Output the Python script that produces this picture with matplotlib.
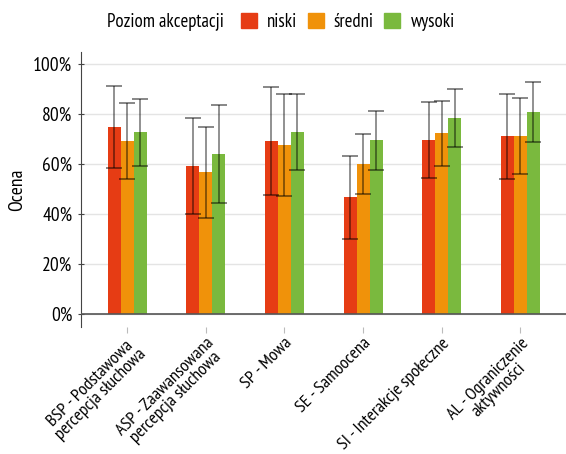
import matplotlib.pyplot as plt
import numpy as np
from matplotlib.ticker import FuncFormatter
from matplotlib.patches import Patch

plt.rcParams['font.family'] = ['PT Sans Narrow', 'DejaVu Sans']

categories = ['BSP - Podstawowa\npercepcja słuchowa',
              'ASP - Zaawansowana\npercepcja słuchowa',
              'SP - Mowa',
              'SE - Samoocena',
              'SI - Interakcje społeczne',
              'AL - Ograniczenie\naktywności']
levels = ['niski', 'średni', 'wysoki']
colors = ['#e63c14', '#f0920a', '#7ab93e']

niski = [74.9, 59.3, 69.2, 46.7, 69.6, 71.2]
sredni = [69.3, 56.8, 67.6, 60.0, 72.4, 71.3]
wysoki = [72.7, 64.0, 72.8, 69.6, 78.4, 80.8]
niski_sd = [16.4, 19.2, 21.5, 16.7, 15.1, 17.0]
sredni_sd = [15.3, 18.2, 20.3, 12.1, 13.0, 15.3]
wysoki_sd = [13.4, 19.6, 15.1, 11.8, 11.4, 11.9]

values = [niski, sredni, wysoki]
errors = [niski_sd, sredni_sd, wysoki_sd]

fig = plt.figure(figsize=(5.66, 4.54), dpi=100)
ax = fig.add_axes([80.7 / 566, 1 - 327 / 454, 1 - 80.7 / 566, (327 - 52) / 454])

x = np.arange(len(categories))
w = 0.165
for i in range(3):
    pos = x + (i - 1) * w
    ax.bar(pos, values[i], w, color=colors[i], zorder=2)
    ax.errorbar(pos, values[i], yerr=errors[i], fmt='none', ecolor='black',
                alpha=0.55, elinewidth=1.1, capsize=6, capthick=1.2, zorder=3)

ax.set_xlim(-0.59, 5.58)
ax.set_ylim(-5.2, 104.8)
ax.set_yticks([0, 20, 40, 60, 80, 100])
ax.yaxis.set_major_formatter(FuncFormatter(lambda v, p: f'{int(v)}%'))
ax.grid(axis='y', color='#e4e4e4', lw=1, zorder=0)
ax.axhline(0, color='#555555', lw=1.2, zorder=4)

for s in ['top', 'right', 'bottom']:
    ax.spines[s].set_visible(False)
ax.spines['left'].set_color('#444444')

ax.tick_params(axis='y', labelsize=14, length=4, color='#444444', direction='inout', pad=4)
ax.tick_params(axis='x', length=4, color='#bbbbbb', pad=2)
ax.set_xticks(x)
ax.set_xticklabels(categories, rotation=45, ha='right', va='top',
                   rotation_mode='anchor', multialignment='center',
                   fontsize=13, linespacing=0.95)
ax.set_ylabel('Ocena', fontsize=14, labelpad=5)

fig.text(107 / 566, 1 - 22 / 454, 'Poziom akceptacji', fontsize=13.5, va='center')
handles = [Patch(color=c) for c in colors]
fig.legend(handles, levels, loc='center left', bbox_to_anchor=(224 / 566, 1 - 22 / 454),
           ncol=3, frameon=False, fontsize=13.5, handlelength=0.85, handleheight=0.85,
           handletextpad=0.55, columnspacing=0.55)

fig.savefig('out.png', dpi=100)
